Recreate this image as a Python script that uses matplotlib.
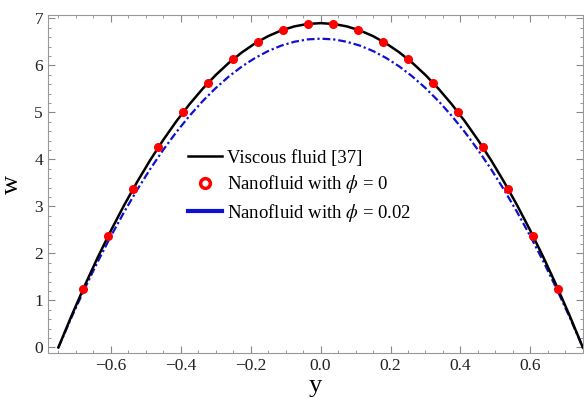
import matplotlib
matplotlib.use("Agg")
import matplotlib.pyplot as plt
from matplotlib.lines import Line2D
from matplotlib.ticker import MultipleLocator

plt.rcParams['font.family'] = ['Liberation Serif', 'DejaVu Serif']
plt.rcParams['mathtext.fontset'] = 'stix'

# curve samples
y_line = [-0.75, -0.7125, -0.675, -0.6375, -0.6, -0.5625, -0.525, -0.4875, -0.45, -0.4125,
          -0.375, -0.3375, -0.3, -0.2625, -0.225, -0.1875, -0.15, -0.1125, -0.075, -0.0375,
          0.0, 0.0375, 0.075, 0.1125, 0.15, 0.1875, 0.225, 0.2625, 0.3, 0.3375,
          0.375, 0.4125, 0.45, 0.4875, 0.525, 0.5625, 0.6, 0.6375, 0.675, 0.7125, 0.75]
w_viscous = [0.0, 0.673, 1.311, 1.915, 2.484, 3.019, 3.519, 3.985, 4.416, 4.813,
             5.175, 5.503, 5.796, 6.055, 6.279, 6.469, 6.624, 6.745, 6.831, 6.883,
             6.900, 6.883, 6.831, 6.745, 6.624, 6.469, 6.279, 6.055, 5.796, 5.503,
             5.175, 4.813, 4.416, 3.985, 3.519, 3.019, 2.484, 1.915, 1.311, 0.673, 0.0]
w_nano02 = [0.0, 0.641, 1.248, 1.823, 2.365, 2.874, 3.351, 3.794, 4.205, 4.583,
            4.928, 5.240, 5.519, 5.765, 5.979, 6.159, 6.307, 6.422, 6.504, 6.554,
            6.570, 6.554, 6.504, 6.422, 6.307, 6.159, 5.979, 5.765, 5.519, 5.240,
            4.928, 4.583, 4.205, 3.794, 3.351, 2.874, 2.365, 1.823, 1.248, 0.641, 0.0]

# red dots (nanofluid, phi = 0)
y_dots = [-0.6786, -0.6071, -0.5357, -0.4643, -0.3929, -0.3214, -0.25, -0.1786, -0.1071, -0.0357,
          0.0357, 0.1071, 0.1786, 0.25, 0.3214, 0.3929, 0.4643, 0.5357, 0.6071, 0.6786]
w_dots = [1.252, 2.378, 3.380, 4.256, 5.007, 5.633, 6.133, 6.509, 6.759, 6.884,
          6.884, 6.759, 6.509, 6.133, 5.633, 5.007, 4.256, 3.380, 2.378, 1.252]

labels = ["Viscous fluid [37]", r"Nanofluid with $\phi$ = 0", r"Nanofluid with $\phi$ = 0.02"]

fig = plt.figure(figsize=(5.84, 3.99), dpi=100)
ax = fig.add_axes([0.082, 0.115, 0.916, 0.847])

ax.plot(y_line, w_nano02, color='#1010d0', lw=1.6, ls=(0, (3.5, 1.3, 1, 1.3)))
ax.plot(y_line, w_viscous, color='black', lw=1.8)
ax.plot(y_dots, w_dots, 'o', color='red', ms=5.5, ls='none')

ax.set_xlim(-0.78, 0.75)
ax.set_ylim(-0.12, 7.07)
ax.xaxis.set_major_locator(MultipleLocator(0.2))
ax.xaxis.set_minor_locator(MultipleLocator(0.05))
ax.yaxis.set_major_locator(MultipleLocator(1))
ax.yaxis.set_minor_locator(MultipleLocator(0.2))
ax.tick_params(which='both', direction='in', top=True, right=True, colors='#888888',
               labelcolor='#222222', labelsize=12.5)
ax.tick_params(which='major', length=5)
ax.tick_params(which='minor', length=2.5)
for sp in ax.spines.values():
    sp.set_color('#999999')
ax.xaxis.set_major_formatter(plt.FuncFormatter(lambda v, p: f"{v:.1f}".replace('-', '\u2212')))
ax.yaxis.set_major_formatter(plt.FuncFormatter(lambda v, p: f"{v:.0f}"))

ax.set_xlabel("y", fontsize=19, labelpad=1)
ax.set_ylabel("w", fontsize=19, labelpad=8)

handles = [
    Line2D([], [], color='black', lw=1.8),
    Line2D([], [], marker='o', ls='none', mfc='white', mec='red', mew=2.5, ms=7),
    Line2D([], [], color='#1010d0', lw=3),
]
ax.legend(handles, labels, loc='upper left', bbox_to_anchor=(0.244, 0.63), frameon=False,
          fontsize=13.5, handlelength=1.8, handletextpad=0.3, labelspacing=0.35, borderpad=0)

fig.savefig("out.png", dpi=100)
